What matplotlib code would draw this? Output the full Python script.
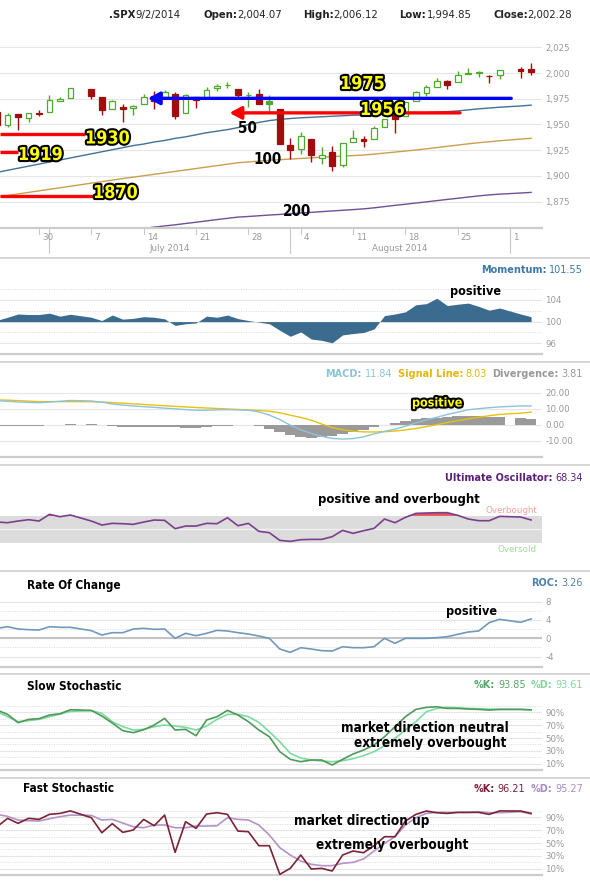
import numpy as np
import matplotlib
matplotlib.use("Agg")
import matplotlib.pyplot as plt
import matplotlib.patheffects as pe
from matplotlib import font_manager as fm

W, H = 590, 882

# =====================================================
# DATA  (SPX daily)
# =====================================================

dates = ["2014-06-24", "2014-06-25", "2014-06-26", "2014-06-27", "2014-06-30",
         "2014-07-01", "2014-07-02", "2014-07-03",
         "2014-07-07", "2014-07-08", "2014-07-09", "2014-07-10", "2014-07-11",
         "2014-07-14", "2014-07-15", "2014-07-16", "2014-07-17", "2014-07-18",
         "2014-07-21", "2014-07-22", "2014-07-23", "2014-07-24", "2014-07-25",
         "2014-07-28", "2014-07-29", "2014-07-30", "2014-07-31", "2014-08-01",
         "2014-08-04", "2014-08-05", "2014-08-06", "2014-08-07", "2014-08-08",
         "2014-08-11", "2014-08-12", "2014-08-13", "2014-08-14", "2014-08-15",
         "2014-08-18", "2014-08-19", "2014-08-20", "2014-08-21", "2014-08-22",
         "2014-08-25", "2014-08-26", "2014-08-27", "2014-08-28", "2014-08-29",
         "2014-09-02", "2014-09-03"]

opens = [1961.97, 1949.27, 1959.89, 1956.56, 1960.79, 1962.29, 1973.06, 1975.88,
         1984.22, 1976.39, 1965.10, 1966.67, 1965.76,
         1969.86, 1977.36, 1976.35, 1979.75, 1961.54,
         1976.93, 1975.65, 1985.32, 1988.07, 1984.60,
         1978.25, 1980.03, 1973.21, 1965.14, 1929.80,
         1926.62, 1936.34, 1917.29, 1923.03, 1910.35,
         1933.43, 1935.73, 1935.60, 1947.41, 1958.87,
         1958.36, 1972.73, 1980.46, 1986.82, 1992.60,
         1991.74, 1998.59, 2000.54, 1997.42, 1998.45,
         2004.07, 2003.57]
highs = [1968.17, 1960.83, 1959.89, 1961.47, 1964.24, 1978.58, 1976.67, 1985.59,
         1984.22, 1976.39, 1974.15, 1969.84, 1968.67,
         1979.85, 1982.52, 1983.94, 1981.80, 1979.91,
         1976.93, 1986.24, 1989.23, 1991.39, 1984.60,
         1981.52, 1984.85, 1978.90, 1965.14, 1937.35,
         1942.92, 1936.34, 1927.91, 1928.89, 1932.38,
         1944.90, 1939.20, 1948.41, 1955.23, 1964.04,
         1971.99, 1982.57, 1988.57, 1994.76, 1993.54,
         2001.95, 2005.04, 2002.14, 1998.55, 2003.38,
         2006.12, 2009.28]
lows = [1948.34, 1947.49, 1944.69, 1952.18, 1958.22, 1962.29, 1972.58, 1975.88,
        1974.88, 1959.46, 1965.10, 1952.86, 1959.63,
        1969.86, 1965.34, 1975.67, 1955.59, 1960.82,
        1965.77, 1975.65, 1982.44, 1985.79, 1974.37,
        1967.31, 1969.95, 1962.42, 1930.67, 1916.37,
        1921.20, 1913.77, 1911.45, 1904.78, 1909.01,
        1933.43, 1928.29, 1935.60, 1947.41, 1941.50,
        1958.36, 1972.73, 1977.68, 1986.82, 1984.76,
        1991.74, 1998.59, 1996.20, 1990.52, 1994.65,
        1994.85, 1998.14]
closes = [1949.98, 1959.53, 1957.22, 1960.96, 1960.23, 1973.32, 1974.62, 1985.44,
          1977.65, 1963.71, 1972.83, 1964.68, 1967.57,
          1977.10, 1973.28, 1981.57, 1958.12, 1978.22,
          1973.63, 1983.53, 1987.01, 1987.98, 1978.34,
          1978.91, 1969.95, 1970.07, 1930.67, 1925.15,
          1938.99, 1920.21, 1920.24, 1909.57, 1931.59,
          1936.92, 1933.75, 1946.72, 1955.18, 1955.06,
          1971.74, 1981.60, 1986.51, 1992.37, 1988.40,
          1997.92, 2000.02, 2000.12, 1996.74, 2003.37,
          2002.28, 2000.72]
prev_close = 1962.61

ma50 = [1903.5, 1905.5, 1907.5, 1909.5, 1911.5, 1913.5, 1915.5, 1917.5,
        1921.5, 1923.5, 1925.5, 1927.5, 1929.5,
        1931.0, 1933.0, 1934.5, 1936.5, 1938.0,
        1940.0, 1942.0, 1943.5, 1945.0, 1947.0,
        1950.0, 1952.0, 1953.8, 1955.0, 1955.8,
        1956.5, 1957.0, 1957.5, 1958.0, 1958.5,
        1959.0, 1959.2, 1959.5, 1960.0, 1960.2,
        1960.5, 1961.0, 1961.5, 1962.0, 1962.5,
        1963.2, 1964.2, 1965.2, 1966.0, 1966.8,
        1968.0, 1968.8]
ma100 = [1879.6, 1881.0, 1882.5, 1884.0, 1885.5, 1887.0, 1888.5, 1890.0,
         1893.0, 1894.4, 1896.0, 1897.5, 1898.8,
         1900.2, 1901.6, 1903.0, 1904.4, 1905.8,
         1907.2, 1908.6, 1910.0, 1911.4, 1912.8,
         1913.6, 1914.4, 1915.2, 1915.8, 1916.4,
         1917.0, 1917.6, 1918.2, 1918.8, 1919.3,
         1919.8, 1920.3, 1921.2, 1922.2, 1923.2,
         1924.2, 1925.2, 1926.4, 1927.6, 1928.8,
         1930.0, 1931.2, 1932.3, 1933.2, 1934.2,
         1935.8, 1936.6]
ma200 = [1833.0, 1834.0, 1835.5, 1836.5, 1838.0, 1839.0, 1840.5, 1841.5,
         1843.5, 1845.0, 1846.0, 1847.0, 1848.0,
         1849.0, 1850.3, 1851.4, 1852.5, 1853.8,
         1855.0, 1856.3, 1857.6, 1858.8, 1860.0,
         1860.6, 1861.3, 1862.0, 1862.6, 1863.3,
         1864.0, 1864.6, 1865.3, 1866.0, 1866.6,
         1867.3, 1868.0, 1869.0, 1870.2, 1871.4,
         1872.5, 1873.7, 1874.8, 1876.0, 1877.2,
         1878.3, 1879.5, 1880.6, 1881.6, 1882.3,
         1883.4, 1884.0]

momentum = [100.25, 100.8, 101.4, 101.3, 101.3, 101.55, 101.0, 101.35,
            100.8, 100.2, 101.2, 100.45, 100.6,
            100.9, 100.8, 100.5, 99.3, 99.6,
            99.75, 101.0, 100.8, 101.2, 100.55,
            100.2, 99.9, 99.6, 98.4, 97.3,
            98.1, 96.8, 96.55, 96.1, 97.55,
            97.8, 98.0, 98.65, 101.1, 101.4,
            101.8, 103.1, 103.3, 104.3, 102.95,
            103.2, 103.4, 102.8, 102.1, 102.5,
            101.4, 100.9]

macd = [15.2, 14.8, 14.4, 14.1, 13.9, 14.3, 14.8, 15.3,
        15.0, 14.3, 13.1, 12.4, 11.9,
        11.4, 11.0, 10.5, 10.1, 9.6,
        9.2, 9.2, 9.4, 9.6, 9.4,
        9.2, 8.2, 6.2, 3.4, -0.1,
        -3.0, -5.3, -7.1, -8.4, -8.8,
        -8.5, -7.4, -5.6, -4.0, -2.6,
        -0.8, 1.3, 3.2, 4.8, 6.6,
        8.0, 9.5, 10.2, 10.8, 11.3,
        11.9, 11.84]
signal = [15.7, 15.5, 15.2, 14.9, 14.6, 14.6, 14.6, 14.6,
          14.5, 14.3, 14.0, 13.6, 13.2,
          12.8, 12.4, 12.0, 11.6, 11.3,
          10.9, 10.6, 10.3, 10.0, 9.7,
          9.4, 9.1, 8.6, 7.6, 6.1,
          4.7, 3.0, 0.6, -1.6, -3.0,
          -3.9, -4.3, -4.4, -4.2, -3.8,
          -3.1, -2.2, -1.0, 0.2, 1.5,
          2.7, 3.8, 4.8, 5.8, 6.6,
          7.4, 8.03]
divergence = [-0.5, -0.7, -0.8, -0.8, -0.7, -0.3, 0.2, 0.7,
              0.5, 0.0, -0.9, -1.2, -1.3,
              -1.4, -1.4, -1.5, -1.5, -1.7,
              -1.7, -1.4, -0.9, -0.4, -0.3,
              -0.2, -0.9, -2.4, -4.2, -6.2,
              -7.7, -8.3, -7.7, -6.8, -5.8,
              -4.6, -3.1, -1.2, 0.2, 1.2,
              2.3, 3.5, 4.2, 4.6, 5.1,
              5.3, 5.7, 5.4, 5.0, 4.7,
              4.5, 3.81]

ultimate = [60.9, 59.9, 62.4, 64.4, 62.4, 72.4, 68.9, 71.4,
            62.4, 56.4, 58.9, 58.4, 57.4,
            60.9, 63.9, 63.4, 50.9, 54.9,
            54.9, 58.9, 58.4, 67.4, 55.4,
            58.9, 46.9, 44.9, 33.4, 31.9,
            34.4, 34.9, 34.9, 38.9, 48.4,
            43.9, 47.9, 51.4, 65.4, 59.9,
            67.9, 73.9, 74.4, 74.9, 74.9,
            70.9, 65.4, 62.9, 62.9, 69.4,
            68.4, 64.0]

roc = [2.18, 2.54, 2.03, 1.89, 1.81, 2.54, 2.40, 2.40,
       1.67, 0.72, 1.23, 1.23, 2.03,
       2.18, 1.96, 2.03, 0.0, 1.09,
       0.58, 1.09, 1.74, 1.60, 1.23,
       0.94, 0.50, 0.0, -2.34, -3.07,
       -2.05, -2.34, -2.70, -2.78, -1.83,
       -2.05, -2.05, -1.83, 0.0, -1.10,
       0.0, 0.0, 0.0, 0.14, 0.36,
       0.87, 1.38, 1.60, 3.42, 4.15,
       3.49, 4.22]

slow_k = [93.5, 86.8, 73.8, 79.0, 80.1, 85.8, 87.8, 94.1,
          93.0, 84.2, 73.3, 61.4, 58.3,
          62.9, 70.2, 80.6, 62.4, 63.5,
          53.6, 78.0, 83.2, 93.0, 85.8,
          75.4, 62.4, 52.0, 28.7, 16.8,
          13.1, 15.7, 15.7, 7.9, 16.8,
          25.1, 31.3, 39.1, 52.0, 67.6,
          83.2, 94.6, 97.7, 98.7, 96.1,
          96.1, 95.1, 94.6, 93.5, 94.6,
          94.6, 93.85]
slow_d = [91.0, 83.2, 75.4, 77.0, 79.0, 83.2, 87.3, 91.5,
          92.5, 88.4, 75.4, 67.6, 62.4,
          63.5, 67.6, 70.2, 68.6, 66.6,
          62.4, 68.6, 79.0, 86.8, 86.8,
          83.2, 74.3, 59.8, 44.3, 26.1,
          18.8, 15.7, 14.2, 13.1, 14.7,
          17.8, 22.5, 28.7, 38.0, 49.5,
          62.4, 75.4, 91.0, 96.1, 97.7,
          97.2, 96.1, 95.6, 95.1, 94.6,
          94.6, 93.61]

fast_k = [75.4, 88.4, 80.6, 88.4, 86.8, 94.6, 96.1, 100.0,
          89.4, 66.0, 80.1, 66.6, 70.2,
          86.8, 76.9, 93.5, 35.4, 83.2,
          72.8, 95.1, 97.2, 94.6, 68.6,
          67.6, 45.8, 45.8, 1.2, 10.5,
          31.3, 9.5, 10.5, 6.4, 31.3,
          37.5, 34.9, 45.8, 59.8, 59.8,
          84.2, 94.6, 99.8, 97.2, 96.1,
          97.7, 97.7, 97.7, 94.6, 100.0,
          99.8, 96.21]
fast_d = [94.6, 91.5, 85.8, 84.7, 84.2, 87.8, 91.0, 93.5,
          93.0, 85.8, 86.8, 81.1, 75.4,
          73.8, 78.0, 78.0, 73.8, 73.8,
          76.4, 76.4, 76.9, 89.4, 86.8,
          85.8, 78.0, 62.4, 42.7, 31.3,
          21.9, 16.8, 14.7, 14.7, 18.3,
          19.9, 25.1, 37.5, 49.4, 59.8,
          78.0, 89.4, 96.1, 97.7, 97.7,
          97.7, 97.7, 98.7, 97.2, 97.2,
          98.7, 95.27]

# hand drawn support / resistance marks: (price, x from, x to) in day slots
blue_level = (1975.4, 10.4, 45.1)
red_arrow_level = (1961.3, 18.2, 40.2)
red_levels = [(1940.5, 4.4), (1923.0, -2.0), (1880.5, 5.2)]

# =====================================================
# SETUP
# =====================================================

names = {f.name for f in fm.fontManager.ttflist}
if "Liberation Sans Narrow" in names:
    NARROW = dict(family="Liberation Sans Narrow", fontweight="bold")
    K = 1.0
else:
    NARROW = dict(family="DejaVu Sans", fontweight="bold", fontstretch="condensed")
    K = 0.78

plt.rcParams["font.family"] = ["DejaVu Sans"]

slots = np.busday_count("2014-06-30", np.array(dates, dtype="datetime64[D]"))
o, h, l, c = map(np.array, (opens, highs, lows, closes))
up = c >= np.r_[prev_close, c[:-1]]

X0, DX, XR = 39.0, 10.47, 542.0
XLIM = (-X0 / DX, (XR - X0) / DX)

fig = plt.figure(figsize=(W / 100, H / 100), dpi=100)


def px_axes(x0, y0, x1, y1):
    return fig.add_axes([x0 / W, 1 - y1 / H, (x1 - x0) / W, (y1 - y0) / H])


def panel(ax, ylim, ticks, labels, minor=(), bottom=True):
    ax.set_xlim(*XLIM)
    ax.set_ylim(*ylim)
    ax.set_facecolor("none")
    for s in ax.spines.values():
        s.set_visible(False)
    if bottom:
        ax.spines["bottom"].set_visible(True)
        ax.spines["bottom"].set_color("#cccccc")
        ax.spines["bottom"].set_linewidth(1.6)
    ax.set_xticks([])
    ax.yaxis.tick_right()
    ax.set_yticks(ticks)
    ax.set_yticklabels(labels)
    ax.tick_params(axis="y", length=0, pad=2.5, labelsize=6.2, labelcolor="#999999")
    for t in ticks:
        ax.axhline(t, color="#e6e6e6", lw=0.8, zorder=0)
    for t in minor:
        ax.axhline(t, color="#dadada", lw=0.7, ls=(0, (1, 1.5)), zorder=0)


# =====================================================
# PRICE PANEL
# =====================================================

GREEN, RED = "#4dab2a", "#a30c0c"
ax = px_axes(0, 36, XR, 227.7)
pticks = [1875, 1900, 1925, 1950, 1975, 2000, 2025]
panel(ax, (1849.7, 2036), pticks, [f"{v:,}" for v in pticks])

col = np.where(up, GREEN, RED)
ax.vlines(slots, l, h, colors=col, lw=1.0, zorder=3)
hollow = c >= o
body_lo = np.minimum(o, c)
body_h = np.maximum(np.abs(c - o), 0.8)
ax.bar(slots, body_h, bottom=body_lo, width=0.55,
       color=np.where(hollow, "white", col), edgecolor=col, linewidth=0.9, zorder=4)

ax.plot(slots, ma50, color="#3f7199", lw=1.0, zorder=2)
ax.plot(slots, ma100, color="#c9a04c", lw=1.0, zorder=2)
ax.plot(slots, ma200, color="#6e5194", lw=1.0, zorder=2)

y, x_from, x_to = blue_level
ax.annotate("", xy=(x_from, y), xytext=(x_to, y), zorder=5,
            arrowprops=dict(arrowstyle="-|>,head_length=0.7,head_width=0.38",
                            color="#0000ff", lw=2.4, shrinkA=0, shrinkB=0))
y, x_from, x_to = red_arrow_level
ax.annotate("", xy=(x_from, y), xytext=(x_to, y), zorder=5,
            arrowprops=dict(arrowstyle="-|>,head_length=0.7,head_width=0.38",
                            color="#ff0000", lw=2.4, shrinkA=0, shrinkB=0))
for y, x_to in red_levels:
    ax.plot([XLIM[0], x_to], [y, y], color="#ff0000", lw=2.4, zorder=5,
            solid_capstyle="butt")

# date axis
xt = ax.get_xaxis_transform()
mondays = np.arange(np.datetime64("2014-06-30"), np.datetime64("2014-09-02"), 7)
for d in mondays:
    s = np.busday_count("2014-06-30", d)
    day = (d - d.astype("datetime64[M]")).astype(int) + 1
    ax.plot([s, s], [0, -0.035], transform=xt, color="#c8c8c8", lw=0.8, clip_on=False)
    ax.text(s + 0.28, -0.05, str(day), transform=xt, ha="left", va="center",
            fontsize=6.3, color="#999999")
for d in ["2014-07-01", "2014-08-01", "2014-09-01"]:
    s = np.busday_count("2014-06-30", d)
    ax.plot([s, s], [0, -0.13], transform=xt, color="#c8c8c8", lw=0.8, clip_on=False)
for s, name in [(12.5, "July 2014"), (34.5, "August 2014")]:
    ax.text(s, -0.107, name, transform=xt, ha="center", va="center",
            fontsize=6.3, color="#999999")

# =====================================================
# MOMENTUM
# =====================================================

ax = px_axes(0, 283, XR, 354)
panel(ax, (94.04, 107.1), [96, 100, 104], ["96", "100", "104"], minor=[98, 102, 106])
ax.fill_between(slots, 100, momentum, color="#3b6b8e", lw=0, zorder=2)

# =====================================================
# MACD
# =====================================================

ax = px_axes(0, 380, XR, 457.3)
panel(ax, (-20.2, 28.1), [-10, 0, 10, 20], ["-10.00", "0.00", "10.00", "20.00"])
ax.bar(slots, divergence, width=1.02, color="#9a9a9a", lw=0, zorder=2)
ax.plot(slots, signal, color="#e8c010", lw=1.0, zorder=3)
ax.plot(slots, macd, color="#8cc3dc", lw=1.0, zorder=3)

# =====================================================
# ULTIMATE OSCILLATOR
# =====================================================

ax = px_axes(0, 488, XR, 566)
panel(ax, (-5, 111.9), [], [], bottom=False)
ax.fill_between(XLIM, 30, 70, color="#dcdcdc", lw=0, zorder=0)
ax.axhline(50, color="#f0f0f0", lw=1.0, zorder=1)
uo = np.array(ultimate)
ax.fill_between(slots, 70, uo, where=uo > 70, interpolate=True, color="#e05a5a",
                lw=0, zorder=2)
ax.plot(slots, uo, color="#7b3f8c", lw=1.2, zorder=3)

# =====================================================
# RATE OF CHANGE
# =====================================================

ax = px_axes(0, 595, XR, 666.7)
panel(ax, (-6.2, 9.46), [-4, 0, 4, 8], ["-4", "0", "4", "8"], minor=[-2, 2, 6])
ax.axhline(0, color="#c4c4c4", lw=1.5, zorder=1)
ax.plot(slots, roc, color="#7099bd", lw=1.2, zorder=3)

# =====================================================
# STOCHASTICS
# =====================================================

sticks = [10, 30, 50, 70, 90]
slab = [f"{v}%" for v in sticks]

ax = px_axes(0, 700, XR, 770.1)
panel(ax, (0, 109.2), sticks, slab, minor=[20, 40, 60, 80, 100])
ax.plot(slots, slow_d, color="#7edaa0", lw=1.2, zorder=3)
ax.plot(slots, slow_k, color="#4e9a5c", lw=1.2, zorder=3)

ax = px_axes(0, 805, XR, 875.1)
panel(ax, (0, 109.2), sticks, slab, minor=[20, 40, 60, 80, 100])
ax.plot(slots, fast_d, color="#b593c9", lw=1.2, zorder=3)
ax.plot(slots, fast_k, color="#7a2436", lw=1.2, zorder=3)

# =====================================================
# OVERLAY: header, titles, hand annotations
# =====================================================

ov = fig.add_axes([0, 0, 1, 1], zorder=10)
ov.set_xlim(0, W)
ov.set_ylim(H, 0)
ov.axis("off")
ov.patch.set_alpha(0)

for yy in [257.5, 361.7, 465, 571, 674, 778]:
    ov.plot([0, W], [yy, yy], color="#d6d6d6", lw=1.4)

i = dates.index("2014-09-02")
header = [(109, ".SPX", True), (135, "9/2/2014", False),
          (203, "Open:", True), (237, f"{opens[i]:,.2f}", False),
          (303, "High:", True), (333, f"{highs[i]:,.2f}", False),
          (399, "Low:", True), (427, f"{lows[i]:,.2f}", False),
          (493, "Close:", True), (527, f"{closes[i]:,.2f}", False)]
for x, s, b in header:
    ov.text(x, 15, s, fontsize=7.3, color="#222222", ha="left", va="center",
            fontweight="bold" if b else "normal")

rend = fig.canvas.get_renderer()


def rtitle(y, parts, right=583):
    x = right
    for s, color, bold, gap in reversed(parts):
        t = ov.text(x, y, s, color=color, fontsize=7, ha="right", va="center",
                    fontweight="bold" if bold else "normal")
        x -= t.get_window_extent(rend).width + gap


rtitle(270, [("Momentum:", "#3d78ad", True, 0), ("101.55", "#3d78ad", False, 3)])
rtitle(374.3, [("MACD:", "#8cc3dc", True, 0), ("11.84", "#8cc3dc", False, 3),
               ("Signal Line:", "#e2b80c", True, 5), ("8.03", "#e2b80c", False, 3),
               ("Divergence:", "#999999", True, 5), ("3.81", "#999999", False, 3)])
rtitle(478.3, [("Ultimate Oscillator:", "#5b1f7a", True, 0),
               ("68.34", "#5b1f7a", False, 3)])
rtitle(582.7, [("ROC:", "#4f81ad", True, 0), ("3.26", "#4f81ad", False, 3)])
rtitle(685, [("%K:", "#5aa469", True, 0), ("93.85", "#5aa469", False, 3),
             ("%D:", "#86d4a4", True, 5), ("93.61", "#86d4a4", False, 3)])
rtitle(789, [("%K:", "#7b1f3a", True, 0), ("96.21", "#7b1f3a", False, 3),
             ("%D:", "#a98bc2", True, 5), ("95.27", "#a98bc2", False, 3)])

ov.text(537, 510.7, "Overbought", color="#f2a0a0", fontsize=6.3, ha="right", va="center")
ov.text(537, 549, "Oversold", color="#a6d69e", fontsize=6.3, ha="right", va="center")

stroke = [pe.withStroke(linewidth=3, foreground="black")]


def yellow(x, y, s, size):
    ov.text(x, y, s, color="#ffff00", fontsize=size * K, ha="left", va="center",
            path_effects=stroke, **NARROW)


def black(x, y, s, size, ha="left"):
    ov.text(x, y, s, color="black", fontsize=size * K, ha=ha, va="center", **NARROW)


yellow(85, 138.5, "1930", 16.5)
yellow(18, 155, "1919", 16.5)
yellow(93, 193, "1870", 16.5)
yellow(340, 84, "1975", 16.5)
yellow(360, 110, "1956", 16.5)
yellow(412, 403, "positive", 11.5)

black(238, 128.5, "50", 14)
black(253, 160, "100", 14)
black(283, 211.5, "200", 14)
black(450, 291, "positive", 11.5)
black(318, 500, "positive and overbought", 12)
black(27, 585, "Rate Of Change", 10.8)
black(446, 611, "positive", 11.5)
black(27, 686, "Slow Stochastic", 10.8)
black(425, 728, "market direction neutral", 12.5, ha="center")
black(430, 743.5, "extremely overbought", 12.5, ha="center")
black(23, 789, "Fast Stochastic", 10.8)
black(294, 821.5, "market direction up", 12.5)
black(316, 845, "extremely overbought", 12.5)

fig.savefig("out.png", dpi=100)
